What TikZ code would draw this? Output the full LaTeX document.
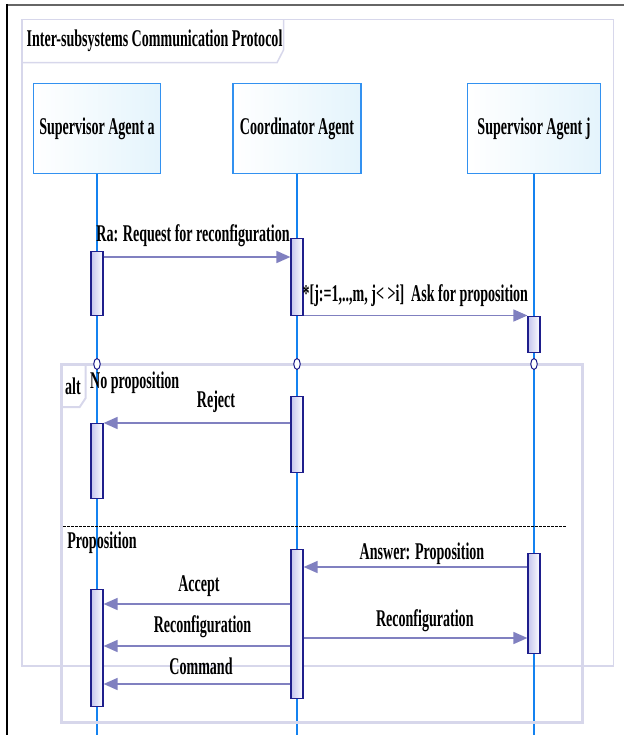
\documentclass[tikz,border=0pt]{standalone}
\usepackage{fontspec}
\setmainfont{Liberation Serif}[FakeStretch=0.585]
\usetikzlibrary{arrows.meta,shapes.geometric}
\definecolor{lifeblue}{RGB}{20,130,240}
\definecolor{headborder}{RGB}{50,145,240}
\definecolor{headfill}{RGB}{228,244,252}
\definecolor{barborder}{RGB}{30,30,140}
\definecolor{barfill}{RGB}{196,196,238}
\definecolor{msgcol}{RGB}{128,128,192}
\definecolor{framecol}{RGB}{215,215,235}
\begin{document}
\begin{tikzpicture}[x=1pt,y=-1pt,
  lbl/.style={font=\fontsize{24}{26}\selectfont\bfseries, inner sep=0pt},
  head/.style={lbl, draw=headborder, line width=1.5pt, left color=white, right color=headfill, minimum height=90pt, anchor=north},
  life/.style={draw=lifeblue, line width=1.2pt},
  actbar/.style={draw=barborder, line width=1.2pt, left color=barfill, right color=white, minimum width=12pt, inner sep=0pt, anchor=north},
  msg/.style={draw=msgcol, line width=1.6pt, -{Triangle[length=14pt,width=12pt]}},
  gate/.style={draw=barborder, fill=white, line width=1pt, ellipse, minimum width=6.5pt, minimum height=11pt, inner sep=0pt}
]
\useasboundingbox (0,0) rectangle (624,735);
% outer border
\draw[black!60, line width=2pt] (7,5) -- (624,5);
\draw[black, line width=1.2pt] (7,4) -- (7,735);
% inner frame
\draw[framecol, line width=1.5pt] (22,19.5) rectangle (613.5,666);
\draw[framecol, line width=1.5pt] (22,62.7) -- (277,62.7) -- (283.5,50) -- (283.5,19.5);
\node[lbl] (title) at (154.5,41) {Inter-subsystems Communication Protocol};
% heads
\node[head, minimum width=127pt] (hA) at (97,83) {Supervisor Agent a};
\node[head, minimum width=128pt] (hB) at (297,83) {Coordinator Agent};
\node[head, minimum width=133pt] (hC) at (534,83) {Supervisor Agent j};
% lifelines
\coordinate (eA) at (97,735);
\coordinate (eB) at (297,735);
\coordinate (eC) at (534,735);
\draw[life] (hA.south) -- (eA);
\draw[life] (hB.south) -- (eB);
\draw[life] (hC.south) -- (eC);
% alt frame
\draw[framecol, line width=3pt] (61,364) rectangle (582,722);
\draw[framecol, line width=2pt] (61,407) -- (79.7,407) -- (85.7,398) -- (85.7,364);
\node[lbl] (alt) at (73,386) {alt};
\node[lbl] (nop) at (134.7,383) {No proposition};
\node[lbl] (prop) at (102,543) {Proposition};
\draw[black, line width=0.9pt, dash pattern=on 3pt off 1pt] (63,526.5) -- (566.5,526.5);
% gates
\node[gate] (gA) at (97,364) {};
\node[gate] (gB) at (297,364) {};
\node[gate] (gC) at (534,364) {};
% activation bars
\node[actbar, minimum height=64pt] (a1) at (97,251) {};
\node[actbar, minimum height=77pt] (b1) at (297,238) {};
\node[actbar, minimum height=36pt] (c1) at (534,315.5) {};
\node[actbar, minimum height=76pt] (b2) at (297,396) {};
\node[actbar, minimum height=75pt] (a2) at (97,423) {};
\node[actbar, minimum height=149pt] (b3) at (297,549) {};
\node[actbar, minimum height=100pt] (c2) at (534,553) {};
\node[actbar, minimum height=117pt] (a3) at (97,589) {};
% messages
\draw[msg] (a1.east |- 0,257) -- (b1.west |- 0,257);
\node[lbl] (l1) at (193,236) {Ra: Request for reconfiguration};
\draw[msg] (b1.east |- 0,315.5) -- (c1.north west);
\node[lbl] (l2) at (415.3,296) {*[j:=1,..,m, j< >i]\ \ Ask for proposition};
\draw[msg] (b2.west |- 0,423) -- (a2.north east);
\node[lbl] (l3) at (216,402) {Reject};
\draw[msg] (c2.west |- 0,567) -- (b3.east |- 0,567);
\node[lbl] (l4) at (422,554) {Answer: Proposition};
\draw[msg] (b3.west |- 0,604) -- (a3.east |- 0,604);
\node[lbl] (l5) at (199,586) {Accept};
\draw[msg] (b3.west |- 0,646) -- (a3.east |- 0,646);
\node[lbl] (l6) at (202.5,627) {Reconfiguration};
\draw[msg] (b3.east |- 0,638) -- (c2.west |- 0,638);
\node[lbl] (l7) at (424.8,620.5) {Reconfiguration};
\draw[msg] (b3.west |- 0,684) -- (a3.east |- 0,684);
\node[lbl] (l8) at (201,666) {Command};
\end{tikzpicture}
\end{document}
